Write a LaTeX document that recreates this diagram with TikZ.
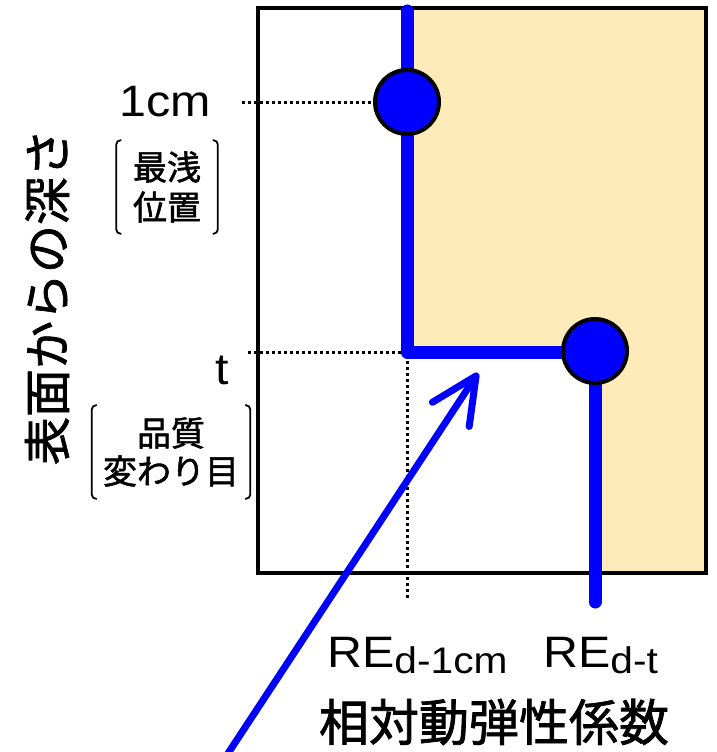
\documentclass[tikz,border=0pt]{standalone}
\usepackage{fontspec}
\setmainfont[FakeStretch=1.1]{Liberation Sans}
\newfontfamily\jp[FakeBold=1.5]{Noto Sans CJK JP}
\usetikzlibrary{arrows.meta}
\definecolor{beige}{RGB}{255,235,185}
\definecolor{pblue}{RGB}{0,0,255}
\newcommand{\fs}[1]{\fontsize{#1}{#1}\selectfont}
\newcommand{\sub}[1]{\raisebox{-6pt}{\fs{37}#1}}

\begin{document}
\begin{tikzpicture}[x=1pt,y=-1pt,
   bluel/.style={draw=pblue,line width=13pt,line cap=round,line join=round},
   dot/.style={circle,fill=pblue,draw=black,line width=4pt,minimum size=64pt,inner sep=0pt},
   dotl/.style={line width=3pt,dash pattern=on 3pt off 3pt},
   brk/.style={line width=1.8pt,rounded corners=4pt},
   small/.style={font=\jp\fs{34},align=center,inner sep=0pt}]
   \useasboundingbox (0,0) rectangle (716,752);
   % beige part right of the step line
   \fill[beige] (407,8) -- (706,8) -- (706,573) -- (595,573) -- (595,352) -- (407,352) -- cycle;
   \draw[line width=3.5pt] (258,8) rectangle (706,573);
   % reference lines
   \coordinate (l1) at (242,102);
   \coordinate (l2) at (248,352);
   \coordinate (corner) at (407,352);
   \coordinate (lb) at (407,598);
   \coordinate (top) at (407,11);
   \coordinate (bot) at (595,602);
   \draw[dotl] (l1) -- (407,102);
   \draw[dotl] (l2) -- (corner) -- (lb);
   \draw[bluel] (top) -- (corner) -- (595,352) -- (bot);
   \node[dot] (d1) at (407,102) {};
   \node[dot] (d2) at (595,351) {};
   % arrow
   \coordinate (tail) at (225,758);
   \coordinate (tip) at (478,373);
   \draw[pblue,line width=7pt,line cap=round,
     -{Straight Barb[length=46pt,width=44pt,round]}] (tail) -- (tip);
   % left labels
   \node (cm) at (165,102) {\fs{44}1cm};
   \node (t) at (222,370) {\fs{44}t};
   \node[small,minimum width=101pt,minimum height=93pt] (a) at (167,187)
     {最浅\\[6pt]位置};
   \draw[brk] ([xshift=5pt]a.north west) -- (a.north west) -- (a.south west) -- ([xshift=5pt]a.south west);
   \draw[brk] ([xshift=-5pt]a.north east) -- (a.north east) -- (a.south east) -- ([xshift=-5pt]a.south east);
   \node[small,minimum width=158pt,minimum height=93pt] (b) at (171,452)
     {品質\\[4pt]変わり目};
   \draw[brk] ([xshift=5pt]b.north west) -- (b.north west) -- (b.south west) -- ([xshift=5pt]b.south west);
   \draw[brk] ([xshift=-5pt]b.north east) -- (b.north east) -- (b.south east) -- ([xshift=-5pt]b.south east);
   \node[rotate=90,font=\jp\fs{48}] (depth) at (47,297) {表面からの深さ};
   % bottom labels
   \node[anchor=base west,inner sep=0pt] (re1) at (327,667) {\fs{44}RE\sub{d-1cm}};
   \node[anchor=base west,inner sep=0pt] (re2) at (543,667) {\fs{44}RE\sub{d-t}};
   \node[font=\jp\fs{50}] (rel) at (494,722) {相対動弾性係数};
\end{tikzpicture}
\end{document}
